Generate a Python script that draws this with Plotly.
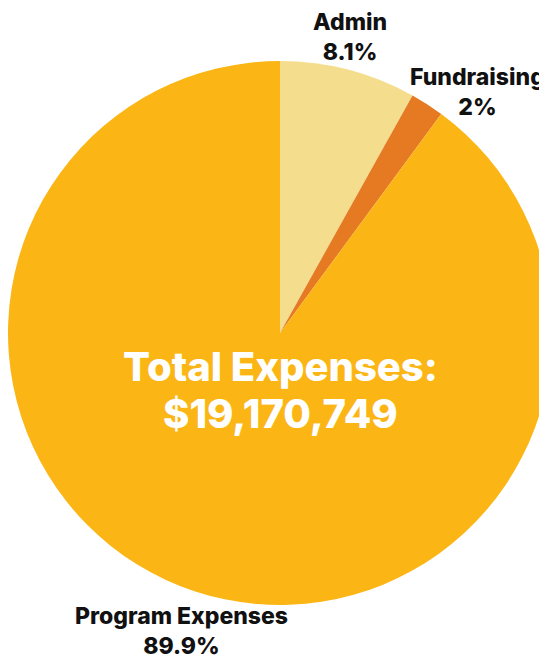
import plotly.graph_objects as go

# Expense breakdown
labels = ["Admin", "Fundraising", "Program Expenses"]
percents = [8.1, 2, 89.9]
colors = ["#F4DD8C", "#E57A22", "#FBB616"]
total_title = "Total Expenses:"
total_expenses = 19170749

# Label positions (paper coords) for each slice
label_pos = [(0.625, 0.955), (0.858, 0.8715), (0.318, 0.0415)]

fig = go.Figure()

fig.add_trace(go.Pie(
    labels=labels,
    values=percents,
    sort=False,
    direction="clockwise",
    rotation=0,
    marker=dict(colors=colors, line=dict(width=0)),
    textinfo="none",
    hoverinfo="label+percent",
    showlegend=False,
    domain=dict(x=[0.0, 0.9945], y=[0.0815, 0.9185]),
))

font_family = "Inter, Roboto, sans-serif"

for (x, y), lab, p in zip(label_pos, labels, percents):
    fig.add_annotation(
        x=x, y=y, xref="paper", yref="paper",
        xanchor="center", yanchor="middle",
        text=f"{lab}<br>{p:g}%",
        showarrow=False,
        font=dict(family=font_family, size=23, color="#111111", weight=800),
        align="center",
    )

# centre text, one annotation per line for tighter spacing
for y, txt in [(0.4477, total_title), (0.3769, f"${total_expenses:,}")]:
    fig.add_annotation(
        x=0.499, y=y, xref="paper", yref="paper",
        xanchor="center", yanchor="middle",
        text=txt,
        showarrow=False,
        font=dict(family=font_family, size=40, color="white", weight=800),
    )

fig.update_layout(
    width=547,
    height=650,
    margin=dict(l=0, r=0, t=0, b=0),
    paper_bgcolor="white",
    plot_bgcolor="white",
)

fig.write_html("out.html")
